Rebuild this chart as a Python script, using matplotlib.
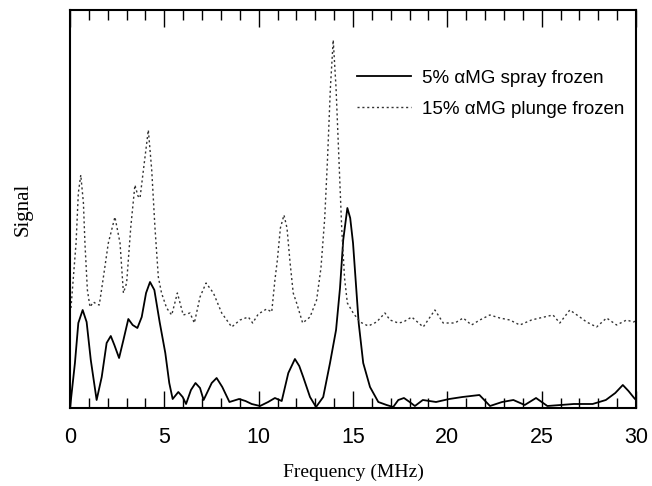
import matplotlib
matplotlib.use("Agg")
import matplotlib.pyplot as plt
from matplotlib.ticker import MultipleLocator

freq_spray = [0.0, 0.26, 0.44, 0.67, 0.88, 1.1, 1.41, 1.68, 1.94, 2.16, 2.35, 2.6, 2.83,
              3.09, 3.32, 3.57, 3.8, 4.03, 4.24, 4.47, 4.75, 5.05, 5.26, 5.44, 5.74, 5.97,
              6.15, 6.41, 6.65, 6.89, 7.08, 7.51, 7.77, 8.07, 8.45, 8.96, 9.3, 9.63, 10.07,
              10.5, 10.86, 11.22, 11.57, 11.92, 12.15, 12.36, 12.72, 13.04, 13.42, 13.78,
              14.1, 14.31, 14.48, 14.7, 14.85, 15.0, 15.15, 15.3, 15.54, 15.9, 16.34, 16.78,
              17.13, 17.4, 17.7, 18.0, 18.28, 18.7, 19.4, 20.1, 20.8, 21.7, 22.26, 22.9,
              23.5, 24.1, 24.7, 25.3, 26.0, 26.7, 27.7, 28.4, 28.9, 29.3, 29.6, 29.9, 30.0]
sig_spray = [0, 45, 85, 98, 86, 48, 8, 31, 65, 72, 63, 50, 68,
             89, 83, 80, 91, 115, 126, 118, 86, 55, 25, 9, 16, 11,
             4, 18, 25, 20, 8, 25, 30, 21, 6, 9, 7, 4, 2,
             6, 10, 7, 35, 49, 42, 31, 11, 1, 11, 45,
             78, 120, 168, 200, 190, 165, 125, 85, 45, 21, 6, 3,
             1, 8, 10, 6, 2, 8, 6, 9, 11, 13, 2, 6,
             8, 3, 10, 2, 3, 4, 4, 8, 15, 23, 17, 10, 8]

freq_plunge = [0.05, 0.32, 0.44, 0.57, 0.71, 0.79, 0.92, 1.06, 1.24, 1.4, 1.55, 1.77, 2.03,
               2.38, 2.65, 2.83, 3.0, 3.22, 3.44, 3.6, 3.71, 3.89, 4.15, 4.33, 4.5, 4.68,
               4.85, 5.12, 5.39, 5.69, 6.0, 6.36, 6.59, 6.89, 7.21, 7.6, 8.04, 8.57, 9.01,
               9.45, 9.68, 9.98, 10.42, 10.69, 10.86, 10.99, 11.15, 11.34, 11.5, 11.66,
               11.83, 12.01, 12.33, 12.72, 13.07, 13.3, 13.5, 13.65, 13.8, 13.95, 14.1,
               14.25, 14.4, 14.55, 14.7, 15.01, 15.37, 15.81, 16.25, 16.69, 16.96, 17.4,
               17.67, 18.11, 18.72, 19.34, 19.78, 20.4, 20.84, 21.28, 21.72, 22.25, 22.78,
               23.31, 23.84, 24.46, 24.9, 25.6, 25.96, 26.49, 27.02, 27.38, 27.91, 28.44,
               28.97, 29.5, 29.85, 30.0]
sig_plunge = [100, 165, 215, 233, 205, 165, 118, 101, 106, 104, 103, 131, 165,
              191, 165, 115, 125, 181, 223, 212, 210, 238, 278, 238, 181, 131,
              115, 100, 93, 115, 93, 95, 85, 111, 125, 115, 95, 81, 88,
              91, 85, 94, 99, 96, 128, 148, 180, 193, 180, 146,
              115, 105, 85, 91, 108, 140, 190, 250, 320, 368, 320,
              250, 180, 130, 105, 95, 86, 82, 86, 95, 88, 85,
              86, 91, 81, 98, 85, 85, 90, 83, 88, 93, 90,
              88, 83, 88, 90, 93, 85, 98, 91, 86, 81, 90,
              83, 88, 86, 87]

labels = ["5% \u03b1MG spray frozen", "15% \u03b1MG plunge frozen"]

fig = plt.figure(figsize=(6.52, 4.86), dpi=100)
ax = fig.add_axes([0.1074, 0.1605, 0.8681, 0.8189])

ax.plot(freq_spray, sig_spray, color="black", lw=1.3, label=labels[0],
        solid_joinstyle="round")
ax.plot(freq_plunge, sig_plunge, color="#333333", lw=1.0, linestyle=(0, (1.5, 2)),
        label=labels[1])

ax.set_xlim(0, 30)
ax.set_ylim(0, 398)
ax.xaxis.set_major_locator(MultipleLocator(5))
ax.xaxis.set_minor_locator(MultipleLocator(1))
ax.set_yticks([])
ax.tick_params(axis="x", which="both", direction="in", top=True, bottom=True, width=1.0)
ax.tick_params(axis="x", which="major", length=12, pad=14)
ax.tick_params(axis="x", which="minor", length=7)
for lab in ax.get_xticklabels():
    lab.set_fontfamily("Liberation Sans")
    lab.set_fontsize(15.5)
for sp in ax.spines.values():
    sp.set_linewidth(1.5)

ax.set_xlabel("Frequency (MHz)", family="Liberation Serif", fontsize=14, labelpad=11)
ax.set_ylabel("Signal", family="Liberation Serif", fontsize=15, labelpad=27)

leg = ax.legend(loc="upper left", bbox_to_anchor=(0.477, 0.893), frameon=False,
                prop={"family": "Liberation Sans", "size": 13.5},
                handlelength=2.9, labelspacing=0.75, handletextpad=0.55,
                borderpad=0.4)

fig.savefig("out.png", dpi=100)
